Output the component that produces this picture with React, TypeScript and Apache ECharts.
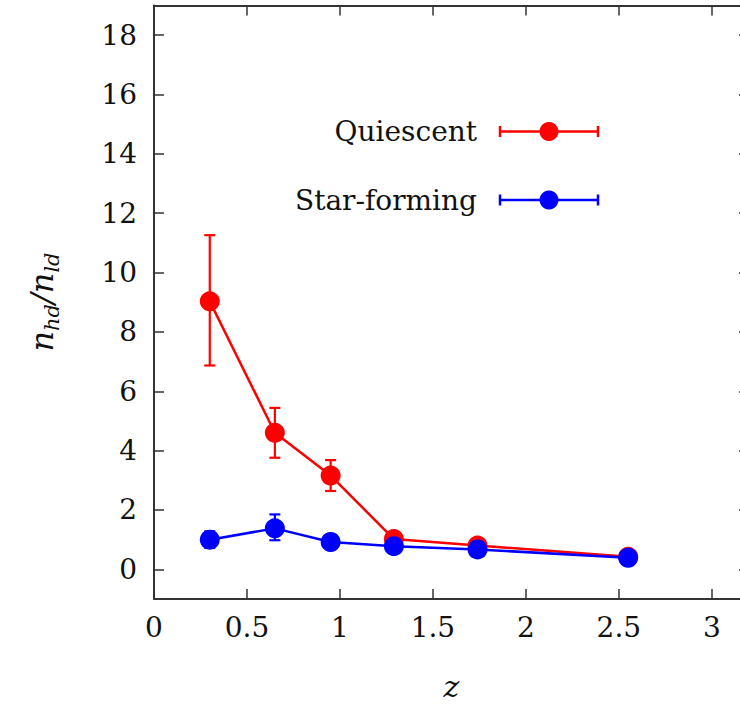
import React, { useEffect, useRef } from "react";
import * as echarts from "echarts";

const qZ = [0.3, 0.65, 0.95, 1.29, 1.74, 2.55];
const qVal = [9.03, 4.6, 3.16, 1.02, 0.8, 0.42];
const qLo = [6.87, 3.76, 2.64, 0.88, 0.68, 0.35];
const qHi = [11.26, 5.44, 3.68, 1.16, 0.92, 0.49];

const sZ = [0.3, 0.65, 0.95, 1.29, 1.74, 2.55];
const sVal = [1.0, 1.38, 0.92, 0.78, 0.67, 0.39];
const sLo = [0.72, 0.98, 0.8, 0.7, 0.6, 0.34];
const sHi = [1.28, 1.85, 1.04, 0.86, 0.74, 0.44];

const xTicks = [0, 0.5, 1, 1.5, 2, 2.5, 3];
const yTicks = [0, 2, 4, 6, 8, 10, 12, 14, 16, 18];

const FONT = "DejaVu Serif";
const RED = "#ff0000";
const BLUE = "#0000ff";
const AXIS = "#333333";

function errorSeries(name: string, z: number[], lo: number[], hi: number[], color: string) {
  return {
    name: name + " err",
    type: "custom",
    xAxisIndex: 0,
    yAxisIndex: 0,
    z: 1,
    encode: { x: 0, y: [1, 2] },
    data: z.map((v, i) => [v, lo[i], hi[i]]),
    renderItem: (params: any, api: any) => {
      const x = api.value(0);
      const a = api.coord([x, api.value(1)]);
      const b = api.coord([x, api.value(2)]);
      const w = 5.5;
      const st = { stroke: color, lineWidth: 2.2 };
      return {
        type: "group",
        children: [
          { type: "line", shape: { x1: a[0], y1: a[1], x2: b[0], y2: b[1] }, style: st },
          { type: "line", shape: { x1: a[0] - w, y1: a[1], x2: a[0] + w, y2: a[1] }, style: st },
          { type: "line", shape: { x1: b[0] - w, y1: b[1], x2: b[0] + w, y2: b[1] }, style: st },
        ],
      };
    },
  };
}

function legendItem(label: string, y: number, color: string) {
  const st = { stroke: color, lineWidth: 2.5 };
  return [
    {
      type: "text",
      x: 477,
      y: y,
      style: {
        text: label,
        fontFamily: FONT,
        fontSize: 28,
        fill: "#111",
        align: "right",
        verticalAlign: "middle",
      },
    },
    { type: "line", shape: { x1: 500, y1: y, x2: 598, y2: y }, style: st },
    { type: "line", shape: { x1: 500, y1: y - 5.5, x2: 500, y2: y + 5.5 }, style: st },
    { type: "line", shape: { x1: 598, y1: y - 5.5, x2: 598, y2: y + 5.5 }, style: st },
    { type: "circle", shape: { cx: 549, cy: y, r: 9.5 }, style: { fill: color } },
  ];
}

export default function App() {
  const ref = useRef<HTMLDivElement>(null);
  useEffect(() => {
    if (!ref.current) return;
    const chart = echarts.init(ref.current, undefined, { renderer: "svg" });
    const axisLine = { show: true, onZero: false, lineStyle: { color: AXIS, width: 2 } };
    const tickStyle = { lineStyle: { color: AXIS, width: 1.5 } };
    chart.setOption({
      animation: false,
      backgroundColor: "#ffffff",
      grid: {
        left: 154,
        top: 5.5,
        right: -9,
        bottom: 105,
        containLabel: false,
        outerBoundsMode: "none",
      },
      xAxis: [
        {
          type: "value",
          min: 0,
          max: 3.2,
          position: "bottom",
          axisLine,
          axisTick: { show: true, inside: true, length: 10, customValues: xTicks, ...tickStyle },
          axisLabel: {
            show: true,
            customValues: xTicks,
            margin: 14,
            fontFamily: FONT,
            fontSize: 28,
            color: "#111",
          },
          splitLine: { show: false },
          name: "z",
          nameLocation: "middle",
          nameGap: 72,
          nameTextStyle: { fontFamily: FONT, fontSize: 30, fontStyle: "italic", color: "#111" },
        },
        {
          type: "value",
          min: 0,
          max: 3.2,
          position: "top",
          axisLine,
          axisTick: { show: true, inside: true, length: 10, customValues: xTicks, ...tickStyle },
          axisLabel: { show: false },
          splitLine: { show: false },
        },
      ],
      yAxis: [
        {
          type: "value",
          min: -1,
          max: 19,
          position: "left",
          axisLine,
          axisTick: { show: true, inside: true, length: 10, customValues: yTicks, ...tickStyle },
          axisLabel: {
            show: true,
            customValues: yTicks,
            margin: 17,
            fontFamily: FONT,
            fontSize: 28,
            color: "#111",
          },
          splitLine: { show: false },
        },
        {
          type: "value",
          min: -1,
          max: 19,
          position: "right",
          axisLine,
          axisTick: { show: true, inside: true, length: 10, customValues: yTicks, ...tickStyle },
          axisLabel: { show: false },
          splitLine: { show: false },
        },
      ],
      graphic: [
        {
          type: "text",
          x: 42,
          y: 302,
          rotation: Math.PI / 2,
          style: {
            text: "{n|n}{s|hd}{n|/n}{s|ld}",
            align: "center",
            verticalAlign: "middle",
            fill: "#111",
            rich: {
              n: { fontFamily: FONT, fontSize: 32, fontStyle: "italic", fill: "#111", lineHeight: 40, verticalAlign: "middle" },
              s: { fontFamily: FONT, fontSize: 21, fontStyle: "italic", fill: "#111", lineHeight: 40, verticalAlign: "bottom", padding: [10, 0, 0, 0] },
            },
          },
        },
        ...legendItem("Quiescent", 131.5, RED),
        ...legendItem("Star-forming", 200, BLUE),
      ],
      series: [
        errorSeries("Quiescent", qZ, qLo, qHi, RED),
        {
          name: "Quiescent",
          type: "line",
          xAxisIndex: 0,
          yAxisIndex: 0,
          z: 2,
          data: qZ.map((v, i) => [v, qVal[i]]),
          symbol: "circle",
          symbolSize: 20,
          itemStyle: { color: RED },
          lineStyle: { color: RED, width: 2.5 },
        },
        errorSeries("Star-forming", sZ, sLo, sHi, BLUE),
        {
          name: "Star-forming",
          type: "line",
          xAxisIndex: 0,
          yAxisIndex: 0,
          z: 3,
          data: sZ.map((v, i) => [v, sVal[i]]),
          symbol: "circle",
          symbolSize: 20,
          itemStyle: { color: BLUE },
          lineStyle: { color: BLUE, width: 2.5 },
        },
      ],
    });
    return () => chart.dispose();
  }, []);
  return (
    <div
      ref={ref}
      style={{ position: "fixed", left: 0, top: 0, width: 740, height: 704, overflow: "hidden" }}
    />
  );
}
